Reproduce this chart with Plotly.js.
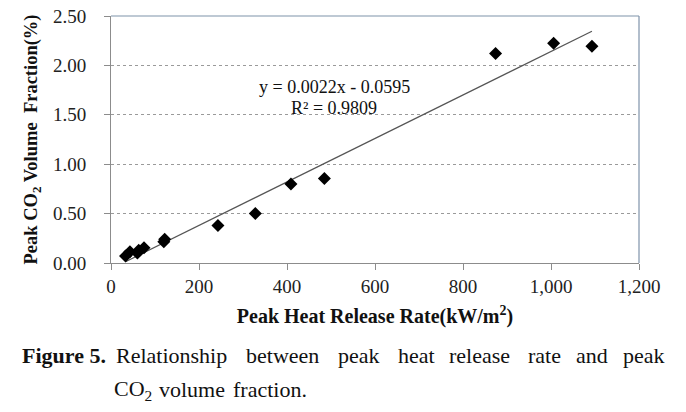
<!DOCTYPE html>
<html>
<head>
<meta charset="utf-8">
<script src="https://cdn.plot.ly/plotly-3.0.1.min.js"></script>
<style>
html,body{margin:0;padding:0;background:#fff;}
#chart{width:686px;height:412px;}
</style>
</head>
<body>
<div id="chart"></div>
<script>
// Data
const heatReleaseRate = [33, 43, 60, 63, 75, 120, 122, 243, 328, 409, 485, 874, 1006, 1093];
const co2Fraction     = [0.07, 0.115, 0.10, 0.13, 0.155, 0.215, 0.24, 0.38, 0.50, 0.80, 0.855, 2.12, 2.225, 2.195];
const trendSlope = 0.0022;
const trendIntercept = -0.0595;
const trendEquation = "y = 0.0022x - 0.0595";
const trendR2 = "R² = 0.9809";
const xTickVals = [0, 200, 400, 600, 800, 1000, 1200];
const xTickText = ["0", "200", "400", "600", "800", "1,000", "1,200"];
const yTickVals = [0, 0.5, 1.0, 1.5, 2.0, 2.5];
const yTickText = ["0.00", "0.50", "1.00", "1.50", "2.00", "2.50"];
const captionLabel = "Figure 5.";
const captionLine1 = ["Relationship", "between", "peak", "heat", "release", "rate", "and", "peak"];
const captionLine2 = ["CO<sub>2</sub>", "volume", "fraction."];

// layout (pixel positions of caption words, justified as in the reference)
const line1X = [115, 245, 337, 397, 448, 527, 575, 622];
const line2X = [113, 158, 232];

const W = 686, H = 412;
const M = {l: 110.5, r: 46.7, t: 16, b: 149};
const pw = W - M.l - M.r, ph = H - M.t - M.b;
const px = x => (x - M.l) / pw;
const py = y => (H - M.b - y) / ph;

const xMin = Math.min(...heatReleaseRate), xMax = Math.max(...heatReleaseRate);
const trendX = [xMin, xMax];
const trendY = trendX.map(x => trendSlope * x + trendIntercept);

const serif = "Liberation Serif, Times New Roman, serif";
const ink = "#111111";

const traces = [
  {x: trendX, y: trendY, mode: "lines", type: "scatter",
   line: {color: "#555555", width: 1.2}, hoverinfo: "skip", showlegend: false},
  {x: heatReleaseRate, y: co2Fraction, mode: "markers", type: "scatter",
   marker: {symbol: "diamond", size: 10, color: "#000000"}, showlegend: false}
];

const annotations = [
  {text: trendEquation, x: px(334), y: py(87), xanchor: "center", yanchor: "middle", font: {family: serif, size: 18, color: ink}},
  {text: trendR2, x: px(334), y: py(108), xanchor: "center", yanchor: "middle", font: {family: serif, size: 18, color: ink}},
  {text: "<b>" + captionLabel + "</b>", x: px(106), y: py(355), xanchor: "right", yanchor: "middle", font: {family: serif, size: 22, color: ink}}
];
captionLine1.forEach((w, i) => annotations.push({text: w, x: px(line1X[i]), y: py(355), xanchor: "left", yanchor: "middle", font: {family: serif, size: 22, color: ink}}));
captionLine2.forEach((w, i) => annotations.push({text: w, x: px(line2X[i]), y: py(390), xanchor: "left", yanchor: "middle", font: {family: serif, size: 22, color: ink}}));
annotations.forEach(a => { a.xref = "paper"; a.yref = "paper"; a.showarrow = false; a.borderpad = 0; });

const layout = {
  width: W, height: H,
  margin: M,
  paper_bgcolor: "#ffffff", plot_bgcolor: "#ffffff",
  showlegend: false,
  xaxis: {
    range: [0, 1200], tickvals: xTickVals, ticktext: xTickText,
    showgrid: false, zeroline: false,
    showline: true, linecolor: "#8c8c8c", linewidth: 1,
    ticks: "outside", ticklen: 6, tickcolor: "#8c8c8c",
    tickfont: {family: serif, size: 19, color: "#222"},
    title: {text: "<b>Peak Heat Release Rate(kW/m<sup>2</sup>)</b>", font: {family: serif, size: 20, color: ink}, standoff: 13}
  },
  yaxis: {
    range: [0, 2.5], tickvals: yTickVals, ticktext: yTickText,
    showgrid: true, gridcolor: "#9a9a9a", griddash: "dot", gridwidth: 1,
    zeroline: false,
    showline: true, linecolor: "#8c8c8c", linewidth: 1,
    ticks: "outside", ticklen: 6, tickcolor: "#8c8c8c",
    ticklabelstandoff: 14,
    tickfont: {family: serif, size: 19, color: "#222"},
    title: {text: "<b>Peak CO<sub>2</sub> Volume  Fraction(%)</b>", font: {family: serif, size: 18.5, color: ink}, standoff: 10}
  },
  shapes: [
    {type: "line", xref: "paper", yref: "paper", x0: 0, x1: 1, y0: 1, y1: 1, line: {color: "#7f93aa", width: 1.2}},
    {type: "line", xref: "paper", yref: "paper", x0: 1, x1: 1, y0: 0, y1: 1, line: {color: "#7f93aa", width: 1.2}}
  ],
  annotations: annotations
};

Plotly.newPlot("chart", traces, layout, {displayModeBar: false, staticPlot: true});
</script>
</body>
</html>
